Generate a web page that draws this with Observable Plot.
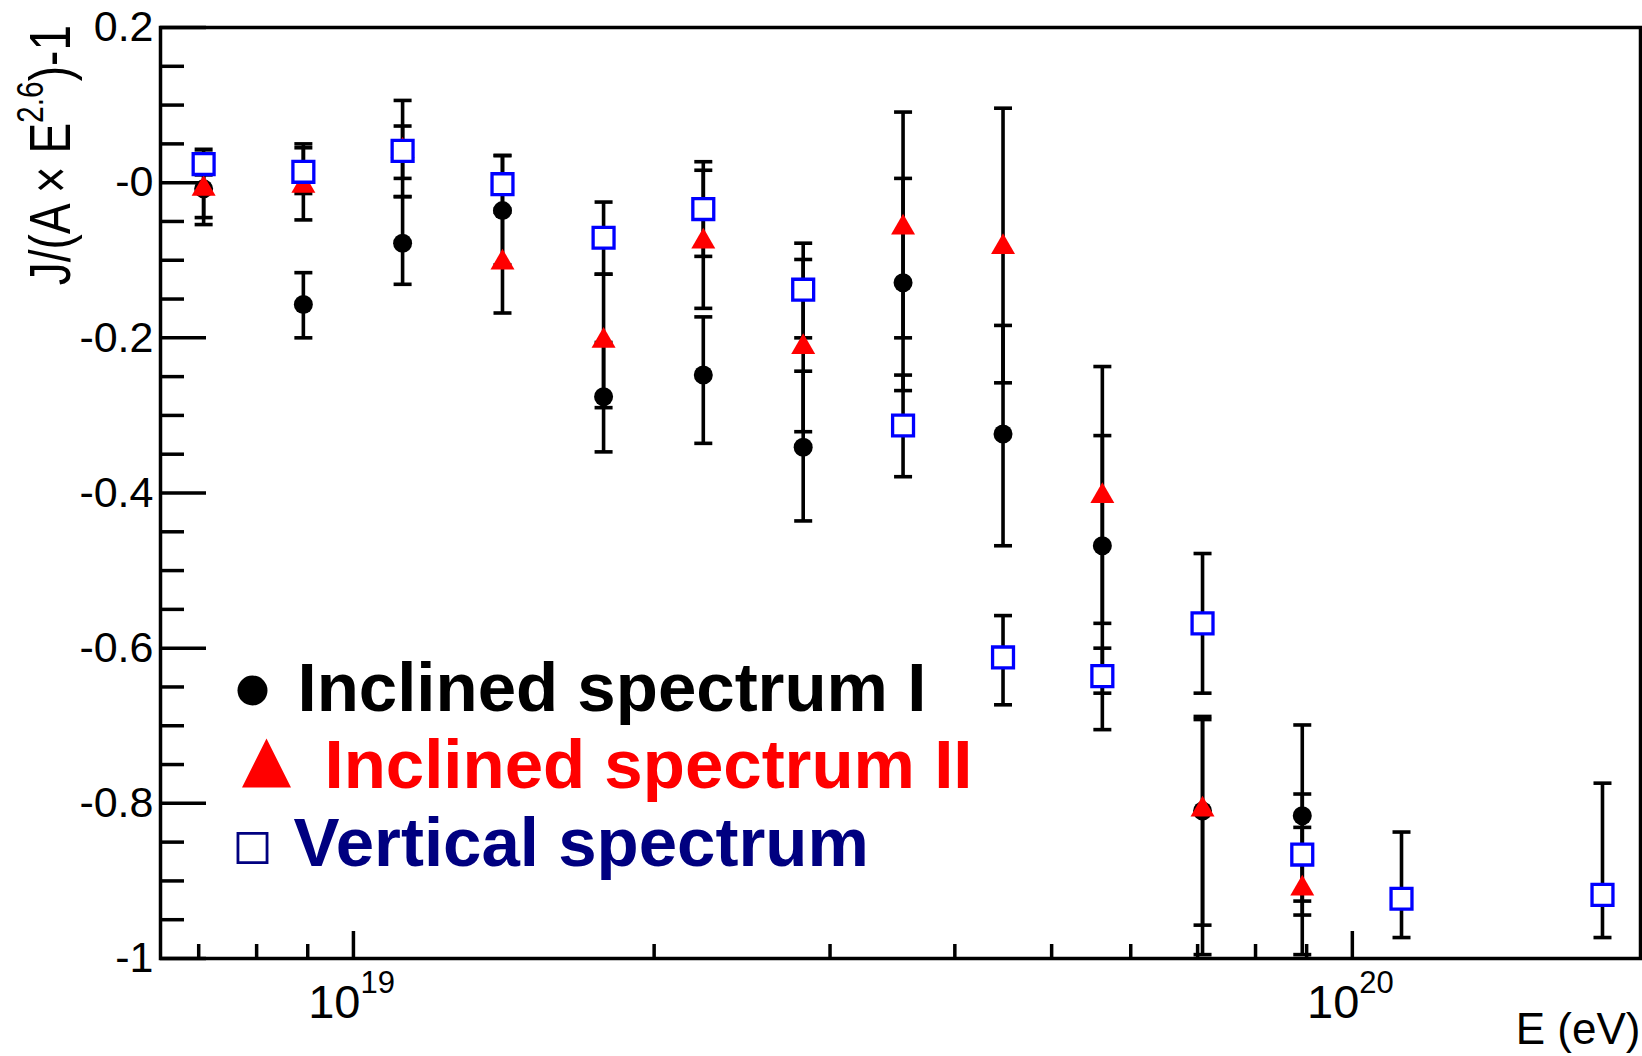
<!DOCTYPE html>
<html>
<head>
<meta charset="utf-8">
<script src="https://cdn.jsdelivr.net/npm/d3@7"></script>
<script src="https://cdn.jsdelivr.net/npm/@observablehq/plot@0.6"></script>
<style>
  html, body { margin: 0; padding: 0; background: #ffffff; }
  #chart svg { display: block; }
</style>
</head>
<body>
<div id="chart"></div>
<script>
// ---- Data ----
const energy = [7.08e18, 8.91e18, 1.12e19, 1.41e19, 1.78e19, 2.24e19, 2.82e19, 3.55e19, 4.47e19, 5.62e19, 7.08e19, 8.91e19, 1.12e20, 1.78e20];

const inclinedI   = [-0.008, -0.157, -0.078, -0.036, -0.276, -0.248, -0.341, -0.129, -0.324, -0.468, -0.810, -0.816];
const inclinedIHi = [ 0.043, -0.116, -0.018,  0.035, -0.206, -0.173, -0.243,  0.0055, -0.184, -0.326, -0.692, -0.699];
const inclinedILo = [-0.054, -0.200, -0.131, -0.106, -0.347, -0.336, -0.436, -0.268, -0.468, -0.705, -0.957, -0.926];

const inclinedII   = [-0.008, -0.004,  0.041, -0.103, -0.204, -0.076, -0.212, -0.058, -0.083, -0.404, -0.808, -0.910];
const inclinedIIHi = [ 0.033,  0.045,  0.106, -0.038, -0.118,  0.016, -0.099,  0.091,  0.096, -0.237, -0.688, -0.831];
const inclinedIILo = [-0.045, -0.048, -0.018, -0.168, -0.290, -0.162, -0.321, -0.200, -0.258, -0.568, -0.995, -0.995];

const vertical   = [0.024, 0.014, 0.041, -0.002, -0.071, -0.034, -0.138, -0.313, -0.612, -0.636, -0.568, -0.866, -0.923, -0.918];
const verticalHi = [0.038, 0.050, 0.073,  0.035, -0.025,  0.027, -0.078, -0.248, -0.558, -0.600, -0.478, -0.788, -0.837, -0.774];
const verticalLo = [0.010, -0.014, 0.0055, -0.034, -0.118, -0.095, -0.200, -0.379, -0.673, -0.658, -0.658, -0.944, -0.973, -0.973];

const seriesNames = ["Inclined spectrum I", "Inclined spectrum II", "Vertical spectrum"];

// Axis ticks and labels
const xDomain = [6.41e18, 1.943e20];
const xMajor = [1e19, 1e20];
const xMajorBase = ["10", "10"];
const xMajorExp = ["19", "20"];
const xMinor = [7e18, 8e18, 9e18, 2e19, 3e19, 4e19, 5e19, 6e19, 7e19, 8e19, 9e19];

const yDomain = [-1, 0.2];
const yMajor = [-1, -0.8, -0.6, -0.4, -0.2, 0, 0.2];
const yMajorLabels = ["-1", "-0.8", "-0.6", "-0.4", "-0.2", "-0", "0.2"];
const yMinor = [-0.95, -0.9, -0.85, -0.75, -0.7, -0.65, -0.55, -0.5, -0.45, -0.35, -0.3, -0.25, -0.15, -0.1, -0.05, 0.05, 0.1, 0.15];

// ---- Tables built from the arrays ----
function table(vals, hi, lo, series) {
  return vals.map((v, i) => ({E: energy[i], v, hi: hi[i], lo: lo[i], series}));
}
const tI = table(inclinedI, inclinedIHi, inclinedILo, seriesNames[0]);
const tII = table(inclinedII, inclinedIIHi, inclinedIILo, seriesNames[1]);
const tV = table(vertical, verticalHi, verticalLo, seriesNames[2]);
const allRows = [...tV, ...tI, ...tII];

const yLabelOf = new Map(yMajor.map((d, i) => [d, yMajorLabels[i]]));
const xTickTable = xMajor.map((E, i) => ({E, base: xMajorBase[i], exp: xMajorExp[i]}));

// custom symbols
const capSymbol = {draw(ctx, size) { const w = Math.sqrt(size / Math.PI); ctx.moveTo(-w, 0); ctx.lineTo(w, 0); }};
const bigTriangle = {draw(ctx, size) { const r = Math.sqrt(size / Math.PI); ctx.moveTo(0, -r); ctx.lineTo(r, r); ctx.lineTo(-r, r); ctx.closePath(); }};

const FONT = "'Liberation Sans', Arial, Helvetica, sans-serif";

const chart = Plot.plot({
  width: 1642,
  height: 1056,
  marginLeft: 160,
  marginRight: 2,
  marginTop: 27,
  marginBottom: 98,
  style: {fontFamily: FONT, fontSize: "43px", background: "#ffffff", color: "#000000", overflow: "visible"},
  x: {type: "log", domain: xDomain, axis: null},
  y: {domain: yDomain, axis: null},
  marks: [
    Plot.frame({stroke: "#000", strokeWidth: 3.5}),
    // y axis ticks (inward) and labels
    Plot.axisY(yMinor, {anchor: "left", tickSize: -24, strokeWidth: 3.5, tickFormat: () => "", label: null}),
    Plot.axisY(yMajor, {anchor: "left", tickSize: -46, tickPadding: 53, strokeWidth: 3.5, tickFormat: d => yLabelOf.get(d), fontSize: 43, label: null}),
    // x axis ticks (inward)
    Plot.axisX(xMinor, {anchor: "bottom", tickSize: -14, strokeWidth: 3.5, tickFormat: () => "", label: null}),
    Plot.axisX(xMajor, {anchor: "bottom", tickSize: -27, strokeWidth: 3.5, tickFormat: () => "", label: null}),
    // x tick labels 10^19, 10^20
    Plot.text(xTickTable, {x: "E", frameAnchor: "bottom", text: "base", textAnchor: "end", lineAnchor: "bottom", dx: 7, dy: 59, fontSize: 47, fill: "#000"}),
    Plot.text(xTickTable, {x: "E", frameAnchor: "bottom", text: "exp", textAnchor: "start", lineAnchor: "bottom", dx: 7, dy: 34, fontSize: 31, fill: "#000"}),
    // x axis title
    Plot.text(["E (eV)"], {frameAnchor: "bottom-right", textAnchor: "end", lineAnchor: "bottom", dy: 85, fontSize: 44, fill: "#000"}),

    // error bars
    Plot.ruleX(allRows, {x: "E", y1: "lo", y2: "hi", stroke: "#000", strokeWidth: 3.6, clip: true}),
    Plot.dot(allRows, {x: "E", y: "hi", symbol: capSymbol, r: 9, stroke: "#000", strokeWidth: 3.6, fill: "none", clip: true}),
    Plot.dot(allRows, {x: "E", y: "lo", symbol: capSymbol, r: 9, stroke: "#000", strokeWidth: 3.6, fill: "none", clip: true}),

    // markers
    Plot.dot(tI, {x: "E", y: "v", r: 9.5, fill: "#000", stroke: "none", clip: true}),
    Plot.dot(tII, {x: "E", y: "v", symbol: "triangle", r: 8.9, fill: "#ff0000", stroke: "none", clip: true}),
    Plot.dot(tV, {x: "E", y: "v", symbol: "square", r: 11.8, fill: "#ffffff", stroke: "#0000ff", strokeWidth: 3.3, clip: true}),

    // legend (inside the frame, lower left)
    Plot.dot([seriesNames[0]], {frameAnchor: "bottom-left", dx: 92, dy: -268, r: 15, fill: "#000", stroke: "none"}),
    Plot.text([seriesNames[0]], {frameAnchor: "bottom-left", textAnchor: "start", lineAnchor: "bottom", dx: 137, dy: -248, fontSize: 69, fontWeight: "bold", fill: "#000"}),
    Plot.dot([seriesNames[1]], {frameAnchor: "bottom-left", dx: 106, dy: -195.5, symbol: bigTriangle, r: 24.5, fill: "#ff0000", stroke: "none"}),
    Plot.text([seriesNames[1]], {frameAnchor: "bottom-left", textAnchor: "start", lineAnchor: "bottom", dx: 164, dy: -171, fontSize: 69, fontWeight: "bold", fill: "#ff0000"}),
    Plot.dot([seriesNames[2]], {frameAnchor: "bottom-left", dx: 92, dy: -110.5, symbol: "square", r: 16.4, fill: "none", stroke: "#000080", strokeWidth: 2.8}),
    Plot.text([seriesNames[2]], {frameAnchor: "bottom-left", textAnchor: "start", lineAnchor: "bottom", dx: 133, dy: -93, fontSize: 69, fontWeight: "bold", fill: "#000080"})
  ]
});

document.getElementById("chart").appendChild(chart);

// y axis title with superscript (rotated)
const svg = d3.select(chart);
const title = svg.append("text")
  .attr("transform", "translate(70,25) rotate(-90) scale(1,1.25)")
  .attr("text-anchor", "end")
  .attr("font-family", FONT)
  .attr("font-size", 46)
  .attr("fill", "#000");
title.append("tspan").text("J/(A × E");
title.append("tspan").attr("dy", -22).attr("font-size", 30).text("2.6");
title.append("tspan").attr("dy", 22).text(")-1");
</script>
</body>
</html>
